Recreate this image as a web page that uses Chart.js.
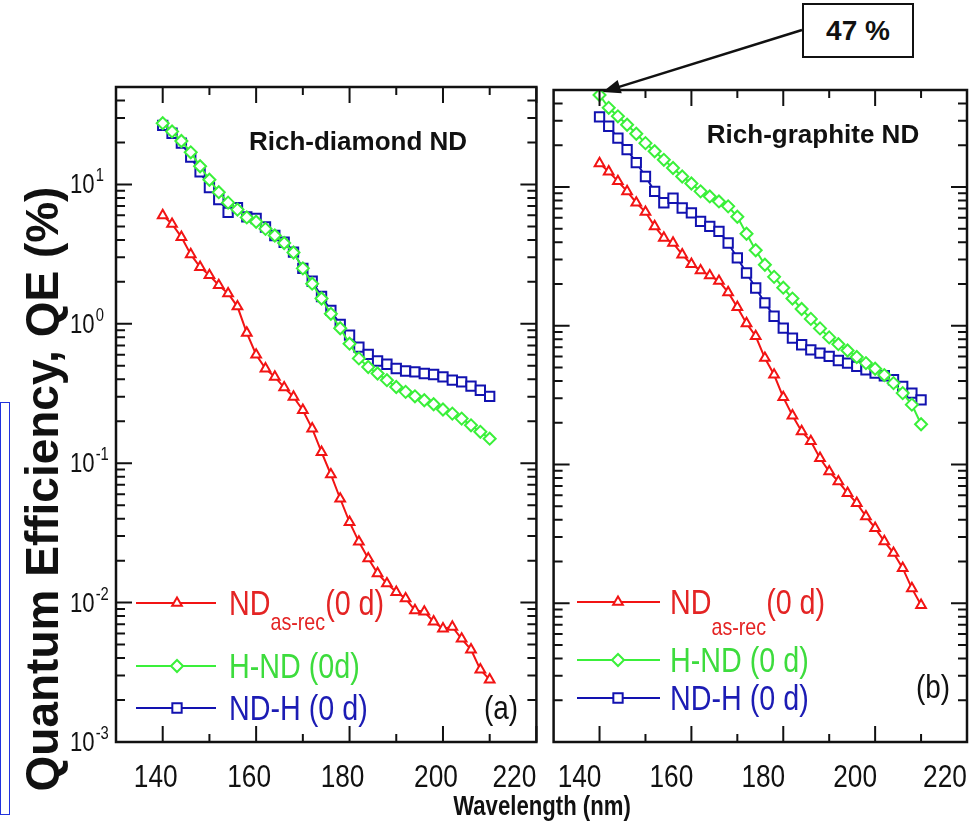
<!DOCTYPE html>
<html>
<head>
<meta charset="utf-8">
<script src="https://cdn.jsdelivr.net/npm/chart.js@4.4.0/dist/chart.umd.min.js"></script>
<style>
  body { margin: 0; background: #fff; width: 977px; height: 829px; position: relative; overflow: hidden;
         font-family: "Liberation Sans", Arial, sans-serif; }
  #boxA { position: absolute; left: 0; top: 0; width: 545px; height: 829px; }
  #boxB { position: absolute; left: 545px; top: 0; width: 432px; height: 829px; }
  .ytitle { position: absolute; left: 42px; top: 489px; transform: translate(-50%, -50%) rotate(-90deg);
            font-weight: bold; font-size: 46px; white-space: nowrap; color: #111; }
  .xtitle { position: absolute; left: 542px; top: 806px; transform: translate(-50%, -50%) scaleX(0.82);
            font-weight: bold; font-size: 27px; white-space: nowrap; color: #111; }
  .note { position: absolute; left: 802px; top: 3px; width: 108px; height: 51px; border: 2px solid #111;
          font-weight: bold; font-size: 28px; line-height: 51px; text-align: center; color: #111; background: #fff; }
  .bracket { position: absolute; left: 0; top: 402px; width: 8px; height: 411px; border: 1.5px solid #2233dd; }
</style>
</head>
<body>
<div id="boxA"><canvas id="chartA"></canvas></div>
<div id="boxB"><canvas id="chartB"></canvas></div>
<div class="ytitle">Quantum Efficiency, QE (%)</div>
<div class="xtitle">Wavelength (nm)</div>
<div class="note">47 %</div>
<div class="bracket"></div>
<script>
// longitud de onda (nm), comun a todas las series
var wavelength = [140, 142, 144, 146, 148, 150, 152, 154, 156, 158, 160, 162, 164, 166, 168, 170, 172, 174,
                  176, 178, 180, 182, 184, 186, 188, 190, 192, 194, 196, 198, 200, 202, 204, 206, 208, 210];

// (a) Rich-diamond ND
var diamAsRec = [6.0, 5.2, 4.19, 3.15, 2.55, 2.23, 1.89, 1.65, 1.33, 0.86, 0.6, 0.477, 0.416, 0.349, 0.299, 0.24, 0.177, 0.12,
                 0.083, 0.0556, 0.0378, 0.0273, 0.0207, 0.0162, 0.0137, 0.0119, 0.0107, 0.0088, 0.0086, 0.0073, 0.0065, 0.0067, 0.0055, 0.0046, 0.0033, 0.0028];
var diamHND   = [27.5, 24, 20.5, 17, 13.5, 10.8, 8.8, 7.4, 6.6, 5.8, 5.4, 4.8, 4.3, 3.8, 3.25, 2.5, 1.94, 1.52,
                 1.18, 0.93, 0.72, 0.565, 0.49, 0.44, 0.394, 0.352, 0.325, 0.302, 0.283, 0.265, 0.243, 0.227, 0.209, 0.187, 0.168, 0.15];
var diamNDH   = [26.5, 23.3, 19.8, 15.7, 12.3, 9.5, 7.8, 6.3, 6.8, 5.85, 5.7, 4.95, 4.3, 3.85, 3.27, 2.5, 2.02, 1.57,
                 1.25, 0.99, 0.83, 0.68, 0.604, 0.541, 0.513, 0.478, 0.459, 0.452, 0.44, 0.433, 0.416, 0.394, 0.383, 0.357, 0.334, 0.302];

// (b) Rich-graphite ND
var graphAsRec = [14.8, 12.9, 11.0, 9.3, 7.7, 6.6, 5.2, 4.3, 3.95, 3.25, 2.78, 2.5, 2.3, 2.1, 1.74, 1.36, 1.04, 0.84,
                  0.585, 0.443, 0.305, 0.225, 0.173, 0.147, 0.111, 0.089, 0.0754, 0.0622, 0.0527, 0.0422, 0.0348, 0.0279, 0.023, 0.0179, 0.0128, 0.0097];
var graphHND   = [46, 37.2, 32.3, 28.1, 24.2, 20.7, 18.1, 15.7, 13.7, 11.9, 10.6, 9.3, 8.55, 7.87, 7.25, 6.1, 4.6, 3.5,
                  2.75, 2.25, 1.88, 1.57, 1.32, 1.12, 0.957, 0.824, 0.736, 0.663, 0.595, 0.538, 0.49, 0.441, 0.386, 0.327, 0.27, 0.195];
var graphNDH   = [32, 27.4, 22.5, 18.6, 15.0, 11.9, 9.3, 7.7, 8.3, 7.06, 6.5, 5.65, 5.2, 4.79, 3.95, 3.08, 2.4, 1.87,
                  1.46, 1.17, 0.962, 0.815, 0.729, 0.67, 0.635, 0.601, 0.562, 0.538, 0.509, 0.482, 0.456, 0.436, 0.408, 0.365, 0.327, 0.292];

// ticks
var xMajorTicks = [140, 160, 180, 200, 220];
var xMinorTicks = [150, 170, 190, 210];
var yMajorTicks = [0.001, 0.01, 0.1, 1, 10];

// leyendas
var legendMain = ['ND', 'H-ND', 'ND-H'];
var legendSub = ['as-rec', '', ''];
var legendTailA = ['(0 d)', ' (0d)', ' (0 d)'];
var legendTailB = ['(0 d)', ' (0 d)', ' (0 d)'];

var RED = '#f21414', GREEN = '#3af03a', BLUE = '#1212b0';
var RED_TXT = '#e42424', GREEN_TXT = '#3ddc3d', BLUE_TXT = '#1c1cb4';
var styles = [
  { color: RED, text: RED_TXT, shape: 'triangle', r: 5.6 },
  { color: GREEN, text: GREEN_TXT, shape: 'rectRot', r: 6 },
  { color: BLUE, text: BLUE_TXT, shape: 'rect', r: 6.6 }
];

function narrow(ctx, txt, x, y, size, color, align, bold) {   // texto estrecho tipo Arial Narrow
  ctx.save();
  ctx.translate(x, y);
  ctx.scale(0.82, 1);
  ctx.font = (bold ? 'bold ' : '') + size + 'px "Liberation Sans", Arial, sans-serif';
  ctx.fillStyle = color;
  ctx.textAlign = align || 'left';
  ctx.textBaseline = 'alphabetic';
  ctx.fillText(txt, 0, 0);
  var w = ctx.measureText(txt).width * 0.82;
  ctx.restore();
  return w;
}

function marker(ctx, st, x, y) {
  ctx.save();
  ctx.strokeStyle = st.color;
  ctx.fillStyle = '#fff';
  ctx.lineWidth = 2;
  Chart.helpers.drawPoint(ctx, { pointStyle: st.shape, radius: st.r, borderWidth: 2, rotation: 0 }, x, y);
  ctx.restore();
}

var panelDecor = {
  id: 'panelDecor',
  afterDraw: function (chart, args, o) {
    var ctx = chart.ctx, a = chart.chartArea, xs = chart.scales.x, ys = chart.scales.y;
    ctx.save();
    // ticks hacia dentro en los cuatro lados
    ctx.strokeStyle = '#111';
    ctx.lineWidth = 2;
    ctx.beginPath();
    xMajorTicks.forEach(function (v) {
      var p = xs.getPixelForValue(v);
      ctx.moveTo(p, a.bottom); ctx.lineTo(p, a.bottom - 16);
      ctx.moveTo(p, a.top); ctx.lineTo(p, a.top + 16);
    });
    xMinorTicks.forEach(function (v) {
      var p = xs.getPixelForValue(v);
      ctx.moveTo(p, a.bottom); ctx.lineTo(p, a.bottom - 8);
      ctx.moveTo(p, a.top); ctx.lineTo(p, a.top + 8);
    });
    yMajorTicks.forEach(function (v) {
      for (var k = 1; k <= 9; k++) {
        var val = v * k;
        if (val > ys.max) break;
        var p = ys.getPixelForValue(val), len = k === 1 ? 16 : 9;
        ctx.moveTo(a.left, p); ctx.lineTo(a.left + len, p);
        ctx.moveTo(a.right, p); ctx.lineTo(a.right - len, p);
      }
    });
    ctx.stroke();
    ctx.lineWidth = 2.5;
    ctx.strokeRect(a.left, a.top, a.right - a.left, a.bottom - a.top);

    // etiquetas del eje x
    xMajorTicks.forEach(function (v, i) {
      var shift = i === xMajorTicks.length - 1 ? o.lastShift : o.xShift;
      narrow(ctx, String(v), xs.getPixelForValue(v) + shift, 787, 32, '#111', 'center');
    });
    // etiquetas del eje y (10^n)
    if (o.yLabels) {
      yMajorTicks.forEach(function (v) {
        var p = ys.getPixelForValue(v);
        var w = narrow(ctx, '10', 70, p + 9, 27, '#111', 'left');
        narrow(ctx, String(Math.round(Math.log10(v))), 70 + w + 1, p - 3, 18, '#111', 'left');
      });
    }
    // titulo del panel
    ctx.font = 'bold 26px "Liberation Sans", Arial, sans-serif';
    ctx.fillStyle = '#111';
    ctx.textAlign = 'center';
    ctx.fillText(o.title, o.titleX, o.titleY);
    // leyenda
    o.rows.forEach(function (ry, i) {
      var st = styles[i];
      ctx.strokeStyle = st.color;
      ctx.lineWidth = 2;
      ctx.beginPath(); ctx.moveTo(o.lx1, ry); ctx.lineTo(o.lx2, ry); ctx.stroke();
      marker(ctx, st, o.lm, ry);
      var x = o.tx;
      x += narrow(ctx, legendMain[i], x, ry + 12, 35, st.text, 'left');
      if (legendSub[i]) x += narrow(ctx, legendSub[i], x, ry + o.subDy, 24, st.text, 'left');
      narrow(ctx, o.tails[i], x, ry + 12, 35, st.text, 'left');
    });
    narrow(ctx, o.letter, o.letterX, o.letterY, 34, '#111', 'center');
    // flecha hacia el maximo
    if (o.arrow) {
      var tx = xs.getPixelForValue(o.arrow.x) + 3, ty = ys.getPixelForValue(o.arrow.y) - 3;
      var sx = o.arrow.fromX, sy = o.arrow.fromY;
      var ang = Math.atan2(ty - sy, tx - sx);
      ctx.strokeStyle = '#111'; ctx.fillStyle = '#111'; ctx.lineWidth = 2.5;
      ctx.beginPath(); ctx.moveTo(sx, sy); ctx.lineTo(tx - 14 * Math.cos(ang), ty - 14 * Math.sin(ang)); ctx.stroke();
      ctx.beginPath();
      ctx.moveTo(tx, ty);
      ctx.lineTo(tx - 18 * Math.cos(ang) + 7 * Math.sin(ang), ty - 18 * Math.sin(ang) - 7 * Math.cos(ang));
      ctx.lineTo(tx - 18 * Math.cos(ang) - 7 * Math.sin(ang), ty - 18 * Math.sin(ang) + 7 * Math.cos(ang));
      ctx.closePath(); ctx.fill();
    }
    ctx.restore();
  }
};

function series(vals, st) {
  return {
    data: wavelength.map(function (w, i) { return { x: w, y: vals[i] }; }),
    borderColor: st.color, borderWidth: 2, tension: 0, fill: false,
    pointStyle: st.shape, pointRadius: st.r, pointBorderWidth: 2,
    pointBorderColor: st.color, pointBackgroundColor: '#fff'
  };
}

function makeChart(id, vals, pad, decor) {
  return new Chart(document.getElementById(id), {
    type: 'line',
    data: { datasets: [series(vals[0], styles[0]), series(vals[1], styles[1]), series(vals[2], styles[2])] },
    options: {
      responsive: true, maintainAspectRatio: false, animation: false, events: [],
      layout: { padding: pad },
      scales: {
        x: { type: 'linear', min: 130, max: 220, display: false },
        y: { type: 'logarithmic', min: 0.001, max: 50, display: false }
      },
      plugins: { legend: { display: false }, tooltip: { enabled: false }, panelDecor: decor }
    },
    plugins: [panelDecor]
  });
}

makeChart('chartA', [diamAsRec, diamHND, diamNDH], { left: 116, top: 87, right: 7, bottom: 87 }, {
  yLabels: true, xShift: -7, lastShift: -22, title: 'Rich-diamond ND', titleX: 358, titleY: 150,
  rows: [603, 666, 708], lx1: 136, lx2: 216, lm: 177, tx: 229, subDy: 27, tails: legendTailA,
  letter: '(a)', letterX: 501, letterY: 719
});

makeChart('chartB', [graphAsRec, graphHND, graphNDH], { left: 4, top: 90, right: 10, bottom: 87 }, {
  yLabels: false, xShift: -20, lastShift: -22, title: 'Rich-graphite ND', titleX: 268, titleY: 143,
  rows: [602, 660, 698], lx1: 32, lx2: 115, lm: 73, tx: 125, subDy: 33, tails: legendTailB,
  letter: '(b)', letterX: 388, letterY: 698,
  arrow: { x: 140, y: 46, fromX: 257, fromY: 30 }
});
</script>
</body>
</html>
